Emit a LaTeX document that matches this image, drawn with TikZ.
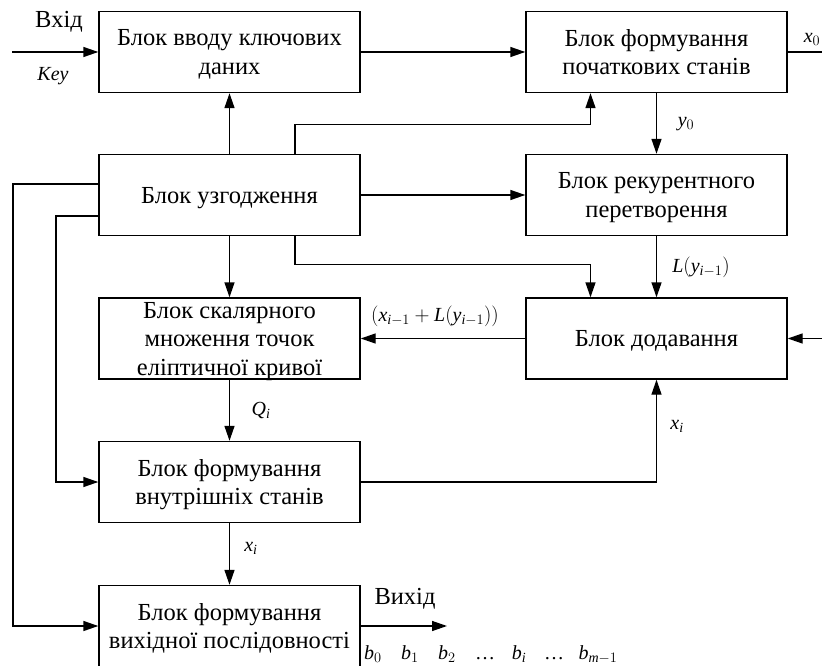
\documentclass[tikz,border=0pt]{standalone}
\usepackage{fontspec}
\setmainfont{Liberation Serif}
\usetikzlibrary{arrows.meta}
% italic letters of the text font for the signal names
\DeclareSymbolFont{timesit}{TU}{\rmdefault}{m}{it}
\DeclareMathSymbol{x}{\mathalpha}{timesit}{`x}
\DeclareMathSymbol{y}{\mathalpha}{timesit}{`y}
\DeclareMathSymbol{L}{\mathalpha}{timesit}{`L}
\DeclareMathSymbol{Q}{\mathalpha}{timesit}{`Q}
\DeclareMathSymbol{b}{\mathalpha}{timesit}{`b}
\DeclareMathSymbol{i}{\mathalpha}{timesit}{`i}
\DeclareMathSymbol{m}{\mathalpha}{timesit}{`m}

\tikzset{
  blok/.style={draw,line width=1.4pt,minimum width=261pt,minimum height=81pt,
    inner sep=0pt,text depth=0pt,align=center,font=\rmfamily\fontsize{24.5}{28.5}\selectfont},
  arr/.style={line width=1.4pt,-{Triangle[length=15pt,width=10pt]}},
  lin/.style={line width=1.4pt},
  sig/.style={inner sep=0pt,font=\rmfamily\fontsize{20}{22}\selectfont},
  txt/.style={inner sep=0pt,font=\rmfamily\fontsize{24.5}{26}\selectfont}
}

\begin{document}
\begin{tikzpicture}[x=1pt,y=-1pt]
\useasboundingbox (0,0) rectangle (822,666);
% blocks
\node[blok] (vvid) at (229.5,52) {Блок вводу ключових\\даних};
\node[blok] (pochat) at (656.5,52) {Блок формування\\початкових станів};
\node[blok] (uzgod) at (229.5,195) {Блок узгодження};
\node[blok] (rekur) at (656.5,195) {Блок рекурентного\\перетворення};
\node[blok] (skal) at (229.5,338.5) {Блок скалярного\\множення точок\\еліптичної кривої};
\node[blok] (dodav) at (656.5,338.5) {Блок додавання};
\node[blok] (vnutr) at (229.5,482) {Блок формування\\внутрішніх станів};
\node[blok] (vykh) at (229.5,626) {Блок формування\\вихідної послідовності};
% free ends
\coordinate (vhid) at (12,52);
\coordinate (x0end) at (822,52);
\coordinate (rin) at (822,338.5);
\coordinate (outend) at (447,626);
\coordinate (busA) at (13,400);
\coordinate (busB) at (56,400);
% connectors
\draw[arr] (vhid) -- (vvid.west);
\draw[arr] (vvid.east) -- (pochat.west);
\draw[lin] (pochat.east) -- (x0end);
\draw[arr] (uzgod.north) -- (vvid.south);
\draw[arr] ([xshift=65.5pt]uzgod.north) -- ++(0,-29) -| ([xshift=-66pt]pochat.south);
\draw[arr] (pochat.south) -- (rekur.north);
\draw[arr] (uzgod.east) -- (rekur.west);
\draw[arr] ([xshift=65.5pt]uzgod.south) -- ++(0,28) -| ([xshift=-66pt]dodav.north);
\draw[arr] (rekur.south) -- (dodav.north);
\draw[arr] (uzgod.south) -- (skal.north);
\draw[arr] (dodav.west) -- (skal.east);
\draw[arr] (rin) -- (dodav.east);
\draw[arr] (skal.south) -- (vnutr.north);
\draw[arr] (vnutr.east) -| (dodav.south);
\draw[arr] (vnutr.south) -- (vykh.north);
\draw[arr] ([yshift=11pt]uzgod.west) -| (busA) |- (vykh.west);
\draw[arr] ([yshift=-21pt]uzgod.west) -| (busB) |- (vnutr.west);
\draw[arr] (vykh.east) -- (outend);
% labels
\node[txt] (lvhid) at (59,22) {Вхід};
\node[sig] (lkey) at (53,76) {\textit{Key}};
\node[sig] (lx0) at (812,39) {$x_0$};
\node[sig] (ly0) at (686,124) {$y_0$};
\node[sig] (lly) at (701,267) {$L\bigl(y_{i-1}\bigr)$};
\node[sig] (lsum) at (435,316) {$(x_{i-1}+L\bigl(y_{i-1}\bigr))$};
\node[sig] (lq) at (261,410) {$Q_i$};
\node[sig] (lxr) at (677,426) {$x_i$};
\node[sig] (lxd) at (251,548) {$x_i$};
\node[txt] (lvykh) at (405,599) {Вихід};
% output sequence
\node[sig,anchor=base] (b0) at (373,659) {$b_0$};
\node[sig,anchor=base] (b1) at (410,659) {$b_1$};
\node[sig,anchor=base] (b2) at (447,659) {$b_2$};
\node[sig,anchor=base] (d1) at (485,659) {…};
\node[sig,anchor=base] (bi) at (519,659) {$b_i$};
\node[sig,anchor=base] (d2) at (554,659) {…};
\node[sig,anchor=base] (bm) at (598,659) {$b_{m-1}$};
\end{tikzpicture}
\end{document}
